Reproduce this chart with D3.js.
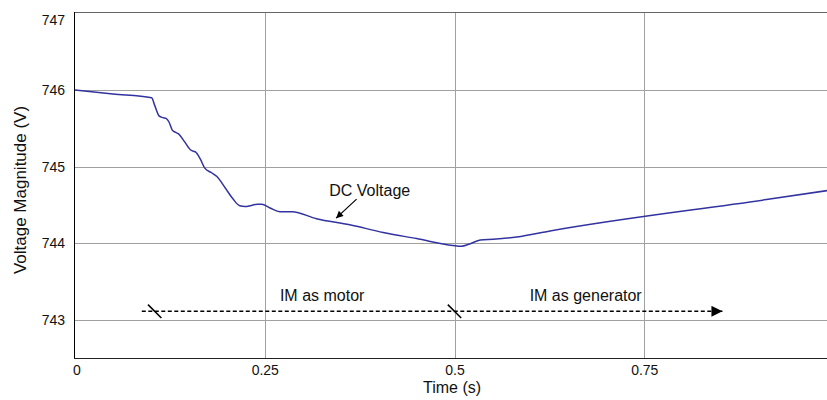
<!DOCTYPE html>
<html>
<head>
<meta charset="utf-8">
<script src="https://cdn.jsdelivr.net/npm/d3@7"></script>
<style>
	body { margin: 0; background: #fff; }
	svg { display: block; font-family: "Liberation Sans", Arial, sans-serif; }
</style>
</head>
<body>
<svg class="chart"></svg>
<script>
// DC link voltage
var time = [0, 0.05, 0.101, 0.105, 0.111, 0.116, 0.120, 0.124, 0.128, 0.132, 0.136, 0.144,
		0.152, 0.156, 0.159, 0.165, 0.171, 0.180, 0.187, 0.198, 0.208, 0.217, 0.224, 0.231,
		0.240, 0.246, 0.257, 0.270, 0.286, 0.318, 0.362, 0.406, 0.450, 0.498, 0.509, 0.520,
		0.534, 0.551, 0.582, 0.626, 0.911, 1.0];
var voltage = [746.00, 745.95, 745.90, 745.80, 745.66, 745.64, 745.63, 745.58, 745.48, 745.45, 745.43, 745.33,
		745.22, 745.20, 745.19, 745.10, 744.98, 744.92, 744.87, 744.72, 744.58, 744.49, 744.48, 744.49,
		744.51, 744.51, 744.46, 744.41, 744.41, 744.32, 744.24, 744.14, 744.06, 743.97, 743.96, 743.99,
		744.04, 744.05, 744.08, 744.16, 744.57, 744.70];

var xTicks = [0, 0.25, 0.5, 0.75];
var xTickLabels = ['0', '0.25', '0.5', '0.75'];
var yTicks = [743, 744, 745, 746, 747];
var yTickLabels = ['743', '744', '745', '746', '747'];

// annotations (data units)
var modeLevel = 743.11;
var modeStart = 0.088, modeEnd = 0.853;
var modeMarks = [0.105, 0.5];
var modeLabels = [
	{ text: 'IM as motor', t: 0.270, v: 743.25 },
	{ text: 'IM as generator', t: 0.599, v: 743.25 }
];
var dcLabel = { text: 'DC Voltage', t: 0.335, v: 744.62 };
var dcArrow = { t0: 0.371, v0: 744.575, t1: 0.344, v1: 744.327 };

var W = 827, H = 400;
var plot = { left: 75, top: 12, bottom: 358 };

var svg = d3.select('svg.chart')
	.attr('width', W)
	.attr('height', H);

var x = d3.scaleLinear()
	.domain([0, 1])
	.range([plot.left, 834]);

var y = d3.scaleLinear()
	.domain([742.5, 747.02])
	.range([plot.bottom, plot.top]);

var defs = svg.append('defs');
defs.append('marker')
	.attr('id', 'head-small')
	.attr('viewBox', '0 0 10 10')
	.attr('refX', 10).attr('refY', 5)
	.attr('markerUnits', 'userSpaceOnUse')
	.attr('markerWidth', 9).attr('markerHeight', 7)
	.attr('orient', 'auto')
  .append('path')
	.attr('d', 'M0,0L10,5L0,10Z')
	.attr('fill', '#000');
defs.append('marker')
	.attr('id', 'head-big')
	.attr('viewBox', '0 0 10 10')
	.attr('refX', 10).attr('refY', 5)
	.attr('markerUnits', 'userSpaceOnUse')
	.attr('markerWidth', 17).attr('markerHeight', 11)
	.attr('orient', 'auto')
  .append('path')
	.attr('d', 'M0,0L10,5L0,10Z')
	.attr('fill', '#000');

// grid
svg.append('g')
	.selectAll('line')
	.data(yTicks.filter(d => d < 747))
	.enter().append('line')
		.attr('x1', plot.left).attr('x2', W)
		.attr('y1', d => Math.round(y(d)) + 0.5)
		.attr('y2', d => Math.round(y(d)) + 0.5)
		.attr('stroke', '#a0a0a0');

svg.append('g')
	.selectAll('line')
	.data(xTicks.filter(d => d > 0))
	.enter().append('line')
		.attr('x1', d => Math.round(x(d)) + 0.5)
		.attr('x2', d => Math.round(x(d)) + 0.5)
		.attr('y1', plot.top).attr('y2', plot.bottom)
		.attr('stroke', '#a0a0a0');

// frame
svg.append('line')
	.attr('x1', plot.left).attr('x2', W)
	.attr('y1', plot.top + 0.5).attr('y2', plot.top + 0.5)
	.attr('stroke', '#666');
svg.append('line')
	.attr('x1', plot.left - 0.5).attr('x2', plot.left - 0.5)
	.attr('y1', plot.top).attr('y2', plot.bottom)
	.attr('stroke', '#000');
svg.append('line')
	.attr('x1', plot.left - 1).attr('x2', W)
	.attr('y1', plot.bottom + 0.5).attr('y2', plot.bottom + 0.5)
	.attr('stroke', '#222');

// tick labels
svg.append('g')
	.selectAll('text')
	.data(yTicks)
	.enter().append('text')
		.attr('x', 65)
		.attr('y', d => Math.max(y(d), 20))
		.attr('dy', '0.36em')
		.attr('text-anchor', 'end')
		.attr('font-size', 14)
		.attr('fill', '#111')
		.text((d, i) => yTickLabels[i]);

svg.append('g')
	.selectAll('text')
	.data(xTicks)
	.enter().append('text')
		.attr('x', d => x(d) + (d === 0 ? 2 : 0.5))
		.attr('y', 374.5)
		.attr('text-anchor', 'middle')
		.attr('font-size', 14)
		.attr('fill', '#111')
		.text((d, i) => xTickLabels[i]);

svg.append('text')
	.attr('x', 452)
	.attr('y', 393)
	.attr('text-anchor', 'middle')
	.attr('font-size', 16)
	.attr('fill', '#111')
	.text('Time (s)');

svg.append('text')
	.attr('transform', 'translate(26,190) rotate(-90)')
	.attr('text-anchor', 'middle')
	.attr('font-size', 17)
	.attr('fill', '#111')
	.text('Voltage Magnitude (V)');

// the voltage trace
var line = d3.line()
	.x(d => x(d[0]))
	.y(d => y(d[1]))
	.curve(d3.curveMonotoneX);

svg.append('path')
	.datum(time.map((t, i) => [t, voltage[i]]))
	.attr('d', line)
	.attr('fill', 'none')
	.attr('stroke', '#3232a0')
	.attr('stroke-width', 1.5);

// DC Voltage label + arrow
svg.append('text')
	.attr('x', x(dcLabel.t))
	.attr('y', y(dcLabel.v))
	.attr('font-size', 16)
	.attr('fill', '#111')
	.text(dcLabel.text);

svg.append('line')
	.attr('x1', x(dcArrow.t0)).attr('y1', y(dcArrow.v0))
	.attr('x2', x(dcArrow.t1)).attr('y2', y(dcArrow.v1))
	.attr('stroke', '#000')
	.attr('stroke-width', 1.2)
	.attr('marker-end', 'url(#head-small)');

// operating mode arrow
svg.append('line')
	.attr('x1', x(modeStart)).attr('x2', x(modeEnd))
	.attr('y1', y(modeLevel)).attr('y2', y(modeLevel))
	.attr('stroke', '#000')
	.attr('stroke-width', 1.6)
	.attr('stroke-dasharray', '4,2.5')
	.attr('marker-end', 'url(#head-big)');

svg.append('g')
	.selectAll('line')
	.data(modeMarks)
	.enter().append('line')
		.attr('x1', d => x(d) - 6.7).attr('y1', y(modeLevel) - 6.7)
		.attr('x2', d => x(d) + 6.7).attr('y2', y(modeLevel) + 6.7)
		.attr('stroke', '#000')
		.attr('stroke-width', 1.5);

svg.append('g')
	.selectAll('text')
	.data(modeLabels)
	.enter().append('text')
		.attr('x', d => x(d.t))
		.attr('y', d => y(d.v))
		.attr('font-size', 16)
		.attr('fill', '#111')
		.text(d => d.text);
</script>
</body>
</html>
